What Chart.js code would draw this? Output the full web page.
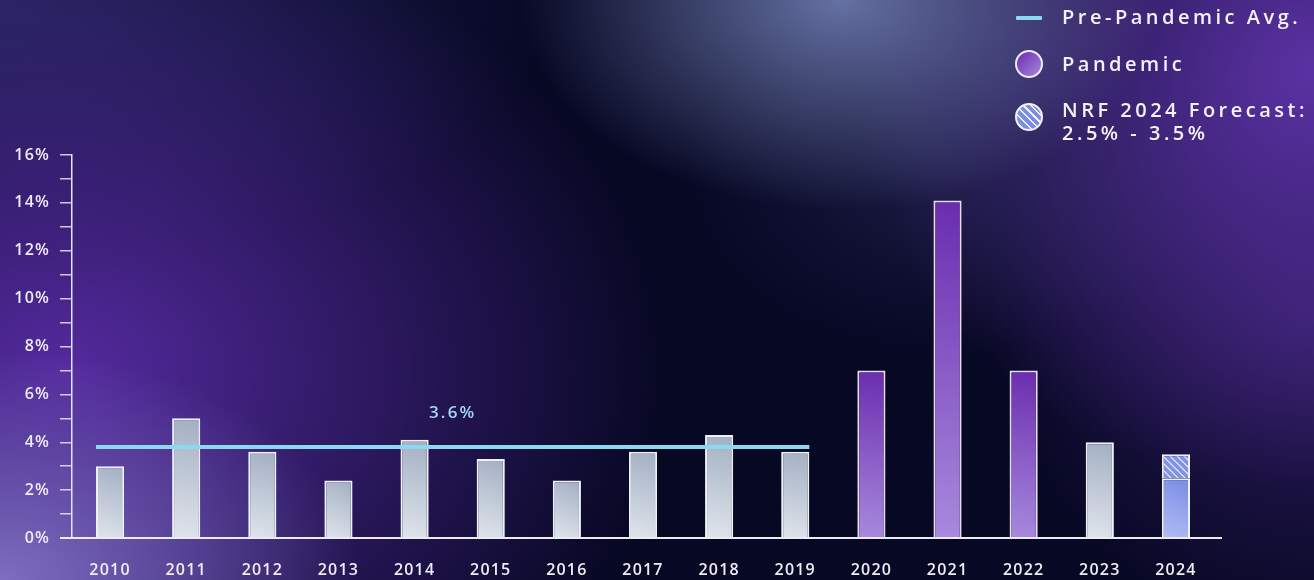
<!DOCTYPE html>
<html>
<head>
<meta charset="utf-8">
<script src="https://cdn.jsdelivr.net/npm/chart.js@4"></script>
<style>
html, body { margin: 0; padding: 0; }
body {
    width: 1314px; height: 580px; overflow: hidden; position: relative;
    font-family: "Open Sans", sans-serif;
    background:
        radial-gradient(ellipse 360px 230px at 0% 100%, rgba(130,115,200,0.95), rgba(130,115,200,0) 100%),
        radial-gradient(ellipse 600px 470px at 5% 64%, rgba(88,44,165,0.95), rgba(88,44,165,0) 100%),
        radial-gradient(ellipse 320px 210px at 64% 0%, rgba(125,140,195,0.8), rgba(125,140,195,0) 100%),
        radial-gradient(ellipse 260px 180px at 72% 30%, rgba(60,60,120,0.35), rgba(60,60,120,0) 100%),
        radial-gradient(ellipse 460px 420px at 100% 12%, rgba(95,52,170,0.95), rgba(95,52,170,0) 100%),
        radial-gradient(ellipse 320px 320px at 100% 55%, rgba(75,42,140,0.55), rgba(75,42,140,0) 100%),
        radial-gradient(ellipse 560px 260px at 0% 0%, rgba(32,36,88,0.95), rgba(32,36,88,0) 100%),
        #070824;
}
#chartBox { position: absolute; left: 0; top: 0; width: 1314px; height: 580px; }
.leg { position: absolute; color: #f3f1fb; font-size: 20px; font-weight: 600; letter-spacing: 3.5px; line-height: 23px; white-space: nowrap; }
.icon { position: absolute; box-sizing: border-box; }
</style>
</head>
<body>
<div id="chartBox"><canvas id="salesChart" width="1314" height="580"></canvas></div>

<!-- legend -->
<div class="icon" style="left:1016px;top:16px;width:26px;height:4px;background:#8ad9ee;border-radius:1px;"></div>
<div class="leg" style="left:1062px;top:5px;">Pre-Pandemic Avg.</div>
<div class="icon" style="left:1015px;top:50px;width:28px;height:28px;border-radius:50%;border:2px solid #f1eaf8;background:linear-gradient(135deg,#6a2db0,#a887dc);"></div>
<div class="leg" style="left:1062px;top:52px;">Pandemic</div>
<div class="icon" style="left:1015px;top:103px;width:28px;height:28px;border-radius:50%;border:2px solid #eef0fb;background:repeating-linear-gradient(45deg,#7d8de2 0px,#7d8de2 4px,#eef0fb 4px,#eef0fb 5.5px);"></div>
<div class="leg" style="left:1062px;top:98px;">NRF 2024 Forecast:</div>
<div class="leg" style="left:1062px;top:121px;">2.5% - 3.5%</div>

<script>
// Retail sales growth by year
const years = ['2010', '2011', '2012', '2013', '2014', '2015', '2016', '2017', '2018', '2019', '2020', '2021', '2022', '2023', '2024'];
const growth = [3.0, 5.0, 3.6, 2.4, 4.1, 3.3, 2.4, 3.6, 4.3, 3.6, 7.0, 14.1, 7.0, 4.0, 2.5];
// 2024 forecast range on top of the 2.5% base
const forecastRange = [null, null, null, null, null, null, null, null, null, null, null, null, null, null, 1.0];
const pandemicYears = ['2020', '2021', '2022'];
const forecastYears = ['2024'];
const preAvgLine = 3.8;
const preAvgLabel = '3.6%';
const preAvgYears = ['2010', '2019'];
const yTicks = [0, 2, 4, 6, 8, 10, 12, 14, 16];

function barFill(context) {
    const chart = context.chart;
    if (!chart.chartArea) return '#c0c8d6';
    const yr = years[context.dataIndex];
    const top = chart.scales.y.getPixelForValue(growth[context.dataIndex]);
    const bot = chart.scales.y.getPixelForValue(0);
    const x = chart.scales.x.getPixelForValue(context.dataIndex);
    const g = chart.ctx.createLinearGradient(x + 14, top, x - 14, bot);
    if (pandemicYears.includes(yr)) {
        g.addColorStop(0, '#6a2cae');
        g.addColorStop(1, '#a88ade');
    } else if (forecastYears.includes(yr)) {
        g.addColorStop(0, '#788ae4');
        g.addColorStop(1, '#b2bdf4');
    } else {
        g.addColorStop(0, '#a2aec2');
        g.addColorStop(1, '#dfe5ec');
    }
    return g;
}

function barBorder(context) {
    const yr = years[context.dataIndex];
    if (pandemicYears.includes(yr)) return '#e8dcf6';
    return '#eef1f6';
}

function hatchPattern() {
    const c = document.createElement('canvas');
    c.width = 7; c.height = 7;
    const p = c.getContext('2d');
    p.fillStyle = '#8092e4';
    p.fillRect(0, 0, 7, 7);
    p.strokeStyle = '#eef0fb';
    p.lineWidth = 1.2;
    p.beginPath();
    p.moveTo(0, 0); p.lineTo(7, 7);
    p.moveTo(-7, 0); p.lineTo(7, 14);
    p.moveTo(0, -7); p.lineTo(14, 7);
    p.stroke();
    return p.createPattern(c, 'repeat');
}

// average line + label, and the extended x axis line
const overlayPlugin = {
    id: 'overlay',
    beforeDraw(chart) {
        chart.ctx.letterSpacing = '1.2px';
    },
    afterDatasetsDraw(chart) {
        const ctx = chart.ctx;
        const meta = chart.getDatasetMeta(0);
        const first = meta.data[years.indexOf(preAvgYears[0])];
        const last = meta.data[years.indexOf(preAvgYears[1])];
        const y = chart.scales.y.getPixelForValue(preAvgLine);
        const x0 = first.x - first.width / 2;
        const x1 = last.x + last.width / 2;
        ctx.save();
        ctx.strokeStyle = '#8ad9ee';
        ctx.lineWidth = 4;
        ctx.beginPath();
        ctx.moveTo(x0, y);
        ctx.lineTo(x1, y);
        ctx.stroke();
        ctx.letterSpacing = '2.2px';
        ctx.fillStyle = '#a3d8f2';
        ctx.font = '600 17px "Open Sans"';
        ctx.textAlign = 'center';
        ctx.textBaseline = 'middle';
        ctx.fillText(preAvgLabel, (x0 + x1) / 2, y - 34);

        const area = chart.chartArea;
        const y0 = chart.scales.y.getPixelForValue(0);
        ctx.strokeStyle = '#eceaf4';
        ctx.lineWidth = 2;
        ctx.beginPath();
        ctx.moveTo(area.left - 12, y0);
        ctx.lineTo(area.right + 8, y0);
        ctx.stroke();
        ctx.restore();
    }
};

new Chart(document.getElementById('salesChart'), {
    type: 'bar',
    data: {
        labels: years,
        datasets: [{
            label: 'Growth',
            data: growth,
            backgroundColor: barFill,
            borderColor: barBorder,
            borderWidth: 2,
            barPercentage: 0.74,
            categoryPercentage: 0.5,
        }, {
            label: 'Forecast',
            data: forecastRange,
            backgroundColor: hatchPattern(),
            borderColor: '#eef0fb',
            borderWidth: 2,
            barPercentage: 0.74,
            categoryPercentage: 0.5,
        }]
    },
    options: {
        responsive: false,
        animation: false,
        layout: { padding: { left: 0, right: 100, top: 155, bottom: 0 } },
        plugins: { legend: { display: false }, tooltip: { enabled: false } },
        scales: {
            x: {
                stacked: true,
                grid: { display: false, drawTicks: false },
                border: { display: false },
                ticks: { color: '#eeedf6', font: { family: 'Open Sans', size: 16, weight: '600' }, padding: 23 },
                afterFit(scale) { scale.height = 42; }
            },
            y: {
                stacked: true,
                min: 0,
                max: 16,
                grid: { drawOnChartArea: false, tickLength: 12, color: 'rgba(232,230,242,0.85)', lineWidth: 1.5 },
                border: { color: '#e6e4f0', width: 1.5 },
                ticks: {
                    stepSize: 1,
                    autoSkip: false,
                    color: '#eeedf6',
                    font: { family: 'Open Sans', size: 16, weight: '600' },
                    padding: 10,
                    callback: (v) => yTicks.includes(v) ? v + '%' : ''
                },
                afterFit(scale) { scale.width = 72; }
            }
        }
    },
    plugins: [overlayPlugin]
});
</script>
</body>
</html>
